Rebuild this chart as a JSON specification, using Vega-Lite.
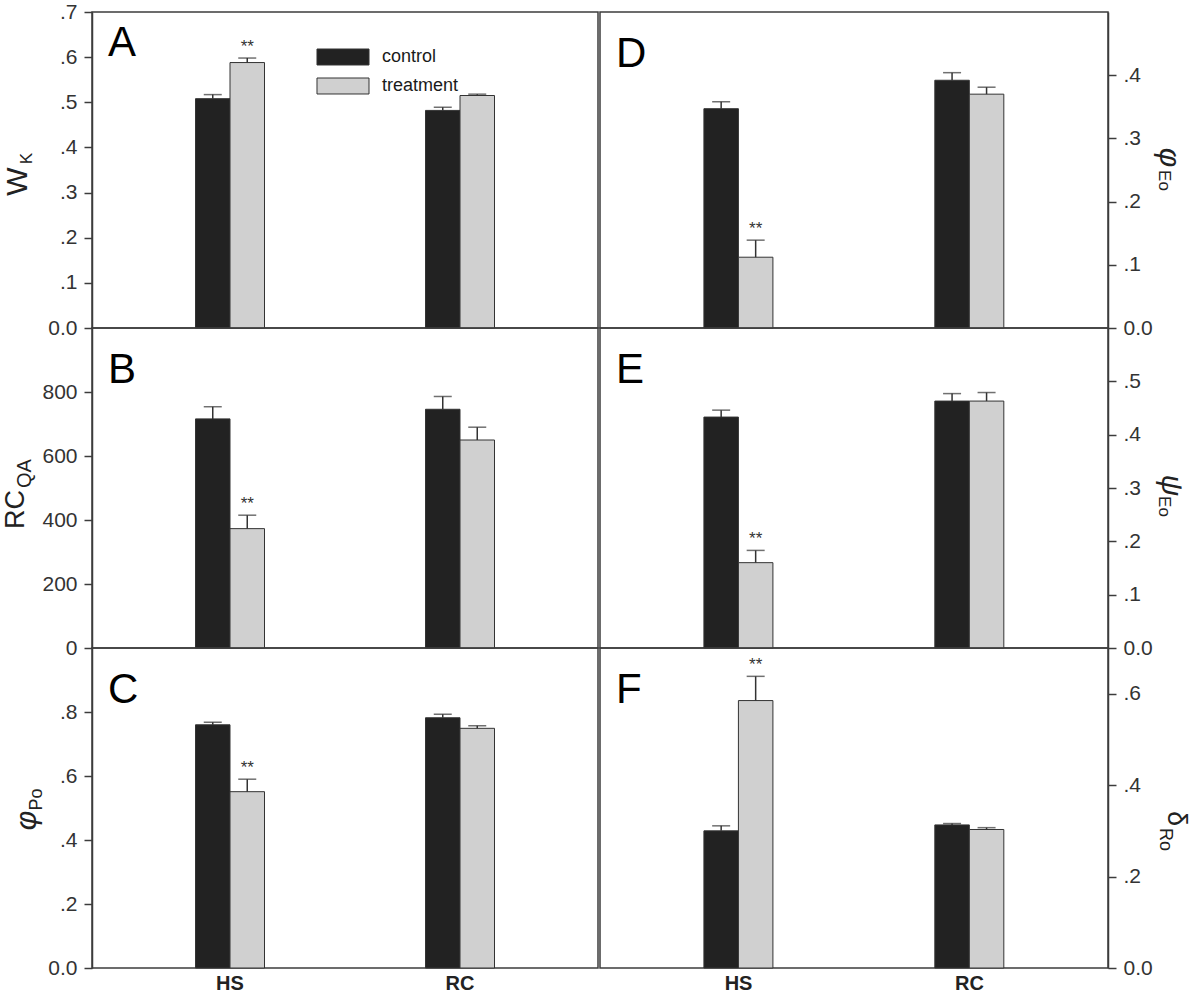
{
  "$schema": "https://vega.github.io/schema/vega-lite/v6.json",
  "background": "white",
  "padding": {"left": 0, "top": 0, "right": 0, "bottom": 0},
  "bounds": "flush",
  "columns": 2,
  "spacing": {"row": 0, "column": 2},
  "align": "each",
  "resolve": {"legend": {"color": "independent"}},
  "datasets": {
    "d": [
      {"panel": "A", "group": "HS", "cond": "control", "value": 0.508, "upper": 0.517, "sig": ""},
      {"panel": "A", "group": "HS", "cond": "treatment", "value": 0.588, "upper": 0.598, "sig": "**"},
      {"panel": "A", "group": "RC", "cond": "control", "value": 0.482, "upper": 0.489, "sig": ""},
      {"panel": "A", "group": "RC", "cond": "treatment", "value": 0.515, "upper": 0.518, "sig": ""},
      {"panel": "B", "group": "HS", "cond": "control", "value": 716, "upper": 754, "sig": ""},
      {"panel": "B", "group": "HS", "cond": "treatment", "value": 373, "upper": 415, "sig": "**"},
      {"panel": "B", "group": "RC", "cond": "control", "value": 746, "upper": 786, "sig": ""},
      {"panel": "B", "group": "RC", "cond": "treatment", "value": 650, "upper": 690, "sig": ""},
      {"panel": "C", "group": "HS", "cond": "control", "value": 0.760, "upper": 0.768, "sig": ""},
      {"panel": "C", "group": "HS", "cond": "treatment", "value": 0.551, "upper": 0.590, "sig": "**"},
      {"panel": "C", "group": "RC", "cond": "control", "value": 0.782, "upper": 0.793, "sig": ""},
      {"panel": "C", "group": "RC", "cond": "treatment", "value": 0.749, "upper": 0.757, "sig": ""},
      {"panel": "D", "group": "HS", "cond": "control", "value": 0.347, "upper": 0.358, "sig": ""},
      {"panel": "D", "group": "HS", "cond": "treatment", "value": 0.112, "upper": 0.139, "sig": "**"},
      {"panel": "D", "group": "RC", "cond": "control", "value": 0.392, "upper": 0.404, "sig": ""},
      {"panel": "D", "group": "RC", "cond": "treatment", "value": 0.370, "upper": 0.381, "sig": ""},
      {"panel": "E", "group": "HS", "cond": "control", "value": 0.433, "upper": 0.446, "sig": ""},
      {"panel": "E", "group": "HS", "cond": "treatment", "value": 0.160, "upper": 0.183, "sig": "**"},
      {"panel": "E", "group": "RC", "cond": "control", "value": 0.463, "upper": 0.477, "sig": ""},
      {"panel": "E", "group": "RC", "cond": "treatment", "value": 0.463, "upper": 0.479, "sig": ""},
      {"panel": "F", "group": "HS", "cond": "control", "value": 0.300, "upper": 0.311, "sig": ""},
      {"panel": "F", "group": "HS", "cond": "treatment", "value": 0.585, "upper": 0.638, "sig": "**"},
      {"panel": "F", "group": "RC", "cond": "control", "value": 0.313, "upper": 0.316, "sig": ""},
      {"panel": "F", "group": "RC", "cond": "treatment", "value": 0.303, "upper": 0.307, "sig": ""}
    ]
  },
  "data": {"name": "d"},
  "config": {
    "font": "Liberation Sans",
    "view": {"stroke": "#3c3c3c", "strokeWidth": 1.5},
    "axis": {
      "labelFont": "Liberation Sans", "labelFontSize": 21, "labelColor": "#333333",
      "tickColor": "#3c3c3c", "tickSize": 8, "tickWidth": 1.5,
      "domainColor": "#3c3c3c", "domainWidth": 1.5, "grid": false, "labelPadding": 7,
      "titleFont": "Liberation Sans", "titleFontWeight": "normal", "titleColor": "#222222"
    },
    "title": {"font": "Liberation Sans", "fontSize": 42, "fontWeight": "normal", "color": "#000000", "anchor": "start", "frame": "group", "baseline": "top", "offset": 0}
  },
  "concat": [
    {
      "width": 506, "height": 316,
      "title": {"text": "A", "dx": 16, "dy": 68},
      "transform": [{"filter": "datum.panel == 'A'"}],
      "encoding": {
        "x": {"field": "group", "type": "nominal", "sort": ["HS", "RC"], "scale": {"paddingInner": 0.7, "paddingOuter": 0.45}, "axis": null},
        "xOffset": {"field": "cond", "type": "nominal", "sort": ["control", "treatment"]}
      },
      "layer": [
        {"mark": {"type": "bar", "stroke": "#333333", "strokeWidth": 1},
         "encoding": {
           "y": {"field": "value", "type": "quantitative", "scale": {"domain": [0, 0.7], "nice": false},
                 "axis": {"orient": "left", "values": [0, 0.1, 0.2, 0.3, 0.4, 0.5, 0.6, 0.7], "labelExpr": "datum.value == 0 ? '0.0' : replace(format(datum.value, '.1f'), '0.', '.')",
                          "title": "W", "titleFontSize": 30, "titleAngle": -90, "titleAlign": "center", "titleBaseline": "alphabetic", "titleX": -66, "titleY": 169}},
           "color": {"field": "cond", "type": "nominal", "scale": {"domain": ["control", "treatment"], "range": ["#222222", "#d0d0d0"]},
                     "legend": {"orient": "none", "legendX": 242, "legendY": 36, "title": null, "symbolType": "M-3.06,-0.94H3.06V0.94H-3.06Z", "symbolSize": 289,
                                "symbolStrokeColor": "#333333", "symbolStrokeWidth": 1, "labelFontSize": 18, "labelColor": "#1a1a1a", "labelOffset": 30, "rowPadding": 9, "padding": 0}}
         }},
        {"mark": {"type": "rule", "color": "#333333", "strokeWidth": 1.5},
         "encoding": {"y": {"field": "value", "type": "quantitative", "axis": {"orient": "left", "title": "K", "labels": false, "ticks": false, "domain": false, "titleFontSize": 17, "titleAngle": -90, "titleAlign": "center", "titleBaseline": "alphabetic", "titleX": -61, "titleY": 146}}, "y2": {"field": "upper"}}},
        {"mark": {"type": "tick", "color": "#333333", "thickness": 1.5, "size": 18},
         "encoding": {"y": {"field": "upper", "type": "quantitative", "axis": null}}},
        {"mark": {"type": "text", "dy": -11, "fontSize": 17, "color": "#333333"},
         "encoding": {"y": {"field": "upper", "type": "quantitative", "axis": null}, "text": {"field": "sig"}}}
      ],
      "resolve": {"axis": {"y": "independent"}}
    },
    {
      "width": 508, "height": 316,
      "title": {"text": "D", "dx": 16, "dy": 68},
      "transform": [{"filter": "datum.panel == 'D'"}],
      "encoding": {
        "x": {"field": "group", "type": "nominal", "sort": ["HS", "RC"], "scale": {"paddingInner": 0.7, "paddingOuter": 0.45}, "axis": null},
        "xOffset": {"field": "cond", "type": "nominal", "sort": ["control", "treatment"]}
      },
      "layer": [
        {"mark": {"type": "bar", "stroke": "#333333", "strokeWidth": 1},
         "encoding": {
           "y": {"field": "value", "type": "quantitative", "scale": {"domain": [0, 0.5], "nice": false},
                 "axis": {"orient": "right", "values": [0, 0.1, 0.2, 0.3, 0.4], "labelExpr": "datum.value == 0 ? '0.0' : replace(format(datum.value, '.1f'), '0.', '.')",
                          "title": "φ", "titleFontSize": 30, "titleFontStyle": "italic", "titleAngle": 90, "titleAlign": "center", "titleBaseline": "alphabetic", "titleX": 51, "titleY": 145}},
           "color": {"field": "cond", "type": "nominal", "scale": {"domain": ["control", "treatment"], "range": ["#222222", "#d0d0d0"]}, "legend": null}
         }},
        {"mark": {"type": "rule", "color": "#333333", "strokeWidth": 1.5},
         "encoding": {"y": {"field": "value", "type": "quantitative", "axis": {"orient": "right", "title": "Eo", "labels": false, "ticks": false, "domain": false, "titleFontSize": 17, "titleAngle": 90, "titleAlign": "center", "titleBaseline": "alphabetic", "titleX": 50, "titleY": 168}}, "y2": {"field": "upper"}}},
        {"mark": {"type": "tick", "color": "#333333", "thickness": 1.5, "size": 18},
         "encoding": {"y": {"field": "upper", "type": "quantitative", "axis": null}}},
        {"mark": {"type": "text", "dy": -11, "fontSize": 17, "color": "#333333"},
         "encoding": {"y": {"field": "upper", "type": "quantitative", "axis": null}, "text": {"field": "sig"}}}
      ],
      "resolve": {"axis": {"y": "independent"}}
    },
    {
      "width": 506, "height": 320,
      "title": {"text": "B", "dx": 16, "dy": 68},
      "transform": [{"filter": "datum.panel == 'B'"}],
      "encoding": {
        "x": {"field": "group", "type": "nominal", "sort": ["HS", "RC"], "scale": {"paddingInner": 0.7, "paddingOuter": 0.45}, "axis": null},
        "xOffset": {"field": "cond", "type": "nominal", "sort": ["control", "treatment"]}
      },
      "layer": [
        {"mark": {"type": "bar", "stroke": "#333333", "strokeWidth": 1},
         "encoding": {
           "y": {"field": "value", "type": "quantitative", "scale": {"domain": [0, 1000], "nice": false},
                 "axis": {"orient": "left", "values": [0, 200, 400, 600, 800], "format": "d",
                          "title": "RC", "titleFontSize": 27, "titleAngle": -90, "titleAlign": "center", "titleBaseline": "alphabetic", "titleX": -69, "titleY": 181}},
           "color": {"field": "cond", "type": "nominal", "scale": {"domain": ["control", "treatment"], "range": ["#222222", "#d0d0d0"]}, "legend": null}
         }},
        {"mark": {"type": "rule", "color": "#333333", "strokeWidth": 1.5},
         "encoding": {"y": {"field": "value", "type": "quantitative", "axis": {"orient": "left", "title": "QA", "labels": false, "ticks": false, "domain": false, "titleFontSize": 20, "titleAngle": -90, "titleAlign": "center", "titleBaseline": "alphabetic", "titleX": -62, "titleY": 145}}, "y2": {"field": "upper"}}},
        {"mark": {"type": "tick", "color": "#333333", "thickness": 1.5, "size": 18},
         "encoding": {"y": {"field": "upper", "type": "quantitative", "axis": null}}},
        {"mark": {"type": "text", "dy": -11, "fontSize": 17, "color": "#333333"},
         "encoding": {"y": {"field": "upper", "type": "quantitative", "axis": null}, "text": {"field": "sig"}}}
      ],
      "resolve": {"axis": {"y": "independent"}}
    },
    {
      "width": 508, "height": 320,
      "title": {"text": "E", "dx": 16, "dy": 68},
      "transform": [{"filter": "datum.panel == 'E'"}],
      "encoding": {
        "x": {"field": "group", "type": "nominal", "sort": ["HS", "RC"], "scale": {"paddingInner": 0.7, "paddingOuter": 0.45}, "axis": null},
        "xOffset": {"field": "cond", "type": "nominal", "sort": ["control", "treatment"]}
      },
      "layer": [
        {"mark": {"type": "bar", "stroke": "#333333", "strokeWidth": 1},
         "encoding": {
           "y": {"field": "value", "type": "quantitative", "scale": {"domain": [0, 0.6], "nice": false},
                 "axis": {"orient": "right", "values": [0, 0.1, 0.2, 0.3, 0.4, 0.5], "labelExpr": "datum.value == 0 ? '0.0' : replace(format(datum.value, '.1f'), '0.', '.')",
                          "title": "ψ", "titleFontSize": 30, "titleFontStyle": "italic", "titleAngle": 90, "titleAlign": "center", "titleBaseline": "alphabetic", "titleX": 53, "titleY": 157}},
           "color": {"field": "cond", "type": "nominal", "scale": {"domain": ["control", "treatment"], "range": ["#222222", "#d0d0d0"]}, "legend": null}
         }},
        {"mark": {"type": "rule", "color": "#333333", "strokeWidth": 1.5},
         "encoding": {"y": {"field": "value", "type": "quantitative", "axis": {"orient": "right", "title": "Eo", "labels": false, "ticks": false, "domain": false, "titleFontSize": 17, "titleAngle": 90, "titleAlign": "center", "titleBaseline": "alphabetic", "titleX": 50, "titleY": 178}}, "y2": {"field": "upper"}}},
        {"mark": {"type": "tick", "color": "#333333", "thickness": 1.5, "size": 18},
         "encoding": {"y": {"field": "upper", "type": "quantitative", "axis": null}}},
        {"mark": {"type": "text", "dy": -11, "fontSize": 17, "color": "#333333"},
         "encoding": {"y": {"field": "upper", "type": "quantitative", "axis": null}, "text": {"field": "sig"}}}
      ],
      "resolve": {"axis": {"y": "independent"}}
    },
    {
      "width": 506, "height": 320,
      "title": {"text": "C", "dx": 16, "dy": 68},
      "transform": [{"filter": "datum.panel == 'C'"}],
      "encoding": {
        "x": {"field": "group", "type": "nominal", "sort": ["HS", "RC"], "scale": {"paddingInner": 0.7, "paddingOuter": 0.45},
              "axis": {"title": null, "labelAngle": 0, "labelFontWeight": "bold", "labelFontSize": 20, "labelColor": "#222222", "ticks": false, "domain": false, "labelPadding": 5}},
        "xOffset": {"field": "cond", "type": "nominal", "sort": ["control", "treatment"]}
      },
      "layer": [
        {"mark": {"type": "bar", "stroke": "#333333", "strokeWidth": 1},
         "encoding": {
           "y": {"field": "value", "type": "quantitative", "scale": {"domain": [0, 1.0], "nice": false},
                 "axis": {"orient": "left", "values": [0, 0.2, 0.4, 0.6, 0.8], "labelExpr": "datum.value == 0 ? '0.0' : replace(format(datum.value, '.1f'), '0.', '.')",
                          "title": "φ", "titleFontSize": 30, "titleFontStyle": "italic", "titleAngle": -90, "titleAlign": "center", "titleBaseline": "alphabetic", "titleX": -57, "titleY": 172}},
           "color": {"field": "cond", "type": "nominal", "scale": {"domain": ["control", "treatment"], "range": ["#222222", "#d0d0d0"]}, "legend": null}
         }},
        {"mark": {"type": "rule", "color": "#333333", "strokeWidth": 1.5},
         "encoding": {"y": {"field": "value", "type": "quantitative", "axis": {"orient": "left", "title": "Po", "labels": false, "ticks": false, "domain": false, "titleFontSize": 18, "titleAngle": -90, "titleAlign": "center", "titleBaseline": "alphabetic", "titleX": -51, "titleY": 151}}, "y2": {"field": "upper"}}},
        {"mark": {"type": "tick", "color": "#333333", "thickness": 1.5, "size": 18},
         "encoding": {"y": {"field": "upper", "type": "quantitative", "axis": null}}},
        {"mark": {"type": "text", "dy": -11, "fontSize": 17, "color": "#333333"},
         "encoding": {"y": {"field": "upper", "type": "quantitative", "axis": null}, "text": {"field": "sig"}}}
      ],
      "resolve": {"axis": {"y": "independent"}}
    },
    {
      "width": 508, "height": 320,
      "title": {"text": "F", "dx": 16, "dy": 68},
      "transform": [{"filter": "datum.panel == 'F'"}],
      "encoding": {
        "x": {"field": "group", "type": "nominal", "sort": ["HS", "RC"], "scale": {"paddingInner": 0.7, "paddingOuter": 0.45},
              "axis": {"title": null, "labelAngle": 0, "labelFontWeight": "bold", "labelFontSize": 20, "labelColor": "#222222", "ticks": false, "domain": false, "labelPadding": 5}},
        "xOffset": {"field": "cond", "type": "nominal", "sort": ["control", "treatment"]}
      },
      "layer": [
        {"mark": {"type": "bar", "stroke": "#333333", "strokeWidth": 1},
         "encoding": {
           "y": {"field": "value", "type": "quantitative", "scale": {"domain": [0, 0.7], "nice": false},
                 "axis": {"orient": "right", "values": [0, 0.2, 0.4, 0.6], "labelExpr": "datum.value == 0 ? '0.0' : replace(format(datum.value, '.1f'), '0.', '.')",
                          "title": "δ", "titleFontSize": 27, "titleAngle": 90, "titleAlign": "center", "titleBaseline": "alphabetic", "titleX": 59, "titleY": 170}},
           "color": {"field": "cond", "type": "nominal", "scale": {"domain": ["control", "treatment"], "range": ["#222222", "#d0d0d0"]}, "legend": null}
         }},
        {"mark": {"type": "rule", "color": "#333333", "strokeWidth": 1.5},
         "encoding": {"y": {"field": "value", "type": "quantitative", "axis": {"orient": "right", "title": "Ro", "labels": false, "ticks": false, "domain": false, "titleFontSize": 18, "titleAngle": 90, "titleAlign": "center", "titleBaseline": "alphabetic", "titleX": 51, "titleY": 191}}, "y2": {"field": "upper"}}},
        {"mark": {"type": "tick", "color": "#333333", "thickness": 1.5, "size": 18},
         "encoding": {"y": {"field": "upper", "type": "quantitative", "axis": null}}},
        {"mark": {"type": "text", "dy": -11, "fontSize": 17, "color": "#333333"},
         "encoding": {"y": {"field": "upper", "type": "quantitative", "axis": null}, "text": {"field": "sig"}}}
      ],
      "resolve": {"axis": {"y": "independent"}}
    }
  ]
}
